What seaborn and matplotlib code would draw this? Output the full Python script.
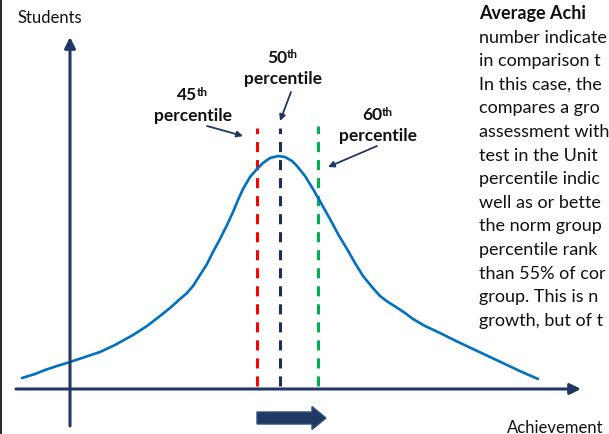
import numpy as np
import matplotlib
matplotlib.use("Agg")
import matplotlib.pyplot as plt
import seaborn as sns
import pandas as pd
from matplotlib.patches import FancyArrow

# curve (x = achievement, students = height above x axis)
curve_x = [22, 35, 45, 57, 70, 85, 100, 115, 133, 147, 160, 170, 180, 187, 193, 200, 207,
           213, 220, 227, 233, 238, 243, 250, 257, 263, 270, 278, 285, 292, 297, 305,
           313, 321, 330, 338, 347, 355, 363, 372, 380, 388, 396, 405, 413, 425, 440,
           456, 473, 490, 507, 522, 538]
curve_y = [11, 15, 19, 23, 27, 32, 37, 44, 54, 63, 73, 81, 90, 96, 103, 114, 125,
           137, 150, 164, 177, 189, 200, 212, 220, 226, 231, 233, 232, 228, 223, 213,
           200, 186, 170, 155, 140, 126, 113, 102, 93, 87, 82, 76, 70, 63, 56,
           48, 40, 32, 24, 17, 10]

# percentile markers
pct_names = ["45", "50", "60"]
pct_x = [257, 280, 318]
pct_top = [261, 261, 263]
pct_colors = ["#FF0000", "#1B2F5A", "#00B050"]

para_lines = ["Average Achi", "number indicate", "in comparison t", "In this case, the",
              "compares a gro", "assessment with", "test in the Unit", "percentile indic",
              "well as or bette", "the norm group", "percentile rank", "than 55% of cor",
              "group. This is n", "growth, but of t"]

navy = "#1F3864"
blue = "#0070C0"

sns.set_style("white")
plt.rcParams['font.family'] = ['Lato', 'DejaVu Sans']

fig = plt.figure(figsize=(6.09, 4.35), dpi=100)
ax = fig.add_axes([0, 0, 1, 1])
ax.set_xlim(0, 609)
ax.set_ylim(-45, 390)
ax.axis('off')

# axes with arrow heads
ax.annotate('', xy=(70, 352), xytext=(70, -37),
            arrowprops=dict(arrowstyle='-|>', lw=2.2, color=navy, mutation_scale=16,
                            shrinkA=0, shrinkB=0))
ax.annotate('', xy=(581, 0), xytext=(16, 0),
            arrowprops=dict(arrowstyle='-|>', lw=2.2, color=navy, mutation_scale=16,
                            shrinkA=0, shrinkB=0))

# dashed percentile lines
for px, top, c in zip(pct_x, pct_top, pct_colors):
    ax.plot([px, px], [3, top], color=c, lw=2.2, dashes=(3.3, 2.6), solid_capstyle='butt')

# bell-ish curve
df = pd.DataFrame({"achievement": curve_x, "students": curve_y})
sns.lineplot(data=df, x="achievement", y="students", sort=False, estimator=None,
             color=blue, lw=1.9, ax=ax)
ax.set_xlabel('')
ax.set_ylabel('')

# labels and pointers
label_pos = [(197, 290), (287, 327), (382, 270)]
arrow_pts = [((207, 263), (243, 253)), ((291, 297), (280, 268)), ((377, 243), (328, 222))]
for name, (lx, ly), (a0, a1) in zip(pct_names, label_pos, arrow_pts):
    ax.text(lx, ly, name, ha='right', va='baseline', fontsize=12.5, fontweight='bold', color='#111111')
    ax.text(lx - 0.5, ly + 4.5, "th", ha='left', va='baseline', fontsize=8.5, fontweight='bold', color='#111111')
    ax.text(lx - 4, ly - 21, "percentile", ha='center', va='baseline', fontsize=12.5,
            fontweight='bold', color='#111111')
    ax.annotate('', xy=a1, xytext=a0,
                arrowprops=dict(arrowstyle='-|>', lw=1.3, color=navy, mutation_scale=9,
                                shrinkA=0, shrinkB=0))

# block arrow under the axis
ax.add_patch(FancyArrow(257, -29, 69, 0, width=12, head_width=23, head_length=14,
                        length_includes_head=True, facecolor=navy, edgecolor="#2F4F7F", lw=1))

ax.text(17, 367, "Students", ha='left', va='baseline', fontsize=12, color='#111111')
ax.text(507, -43, "Achievement", ha='left', va='baseline', fontsize=12, color='#111111')

# side paragraph (reference is cut by the right edge)
for i, line in enumerate(para_lines):
    ax.text(479, 371 - i * 23.6, line, ha='left', va='baseline', fontsize=13,
            fontweight='bold' if i == 0 else 'normal', color='#111111')

ax.axvline(0.5, color='black', lw=1.2)

fig.savefig("out.png", dpi=100)
